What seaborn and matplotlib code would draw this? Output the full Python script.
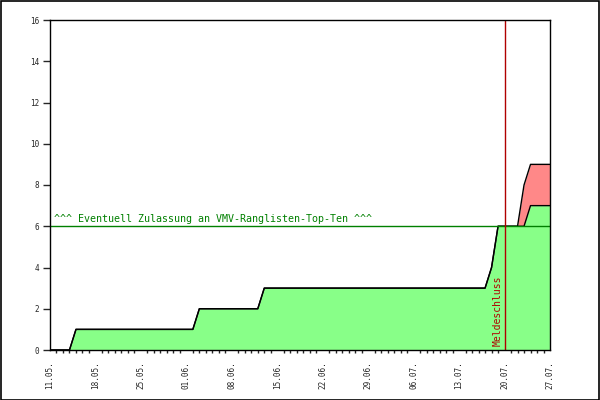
import pandas as pd
import seaborn as sns
import matplotlib.pyplot as plt
import matplotlib.dates as mdates
from matplotlib.patches import Rectangle

# vertices of the curves (daily counts, linear between days)
dates = ["2009-05-11", "2009-05-14", "2009-05-15", "2009-06-02", "2009-06-03",
         "2009-06-12", "2009-06-13", "2009-07-17", "2009-07-18", "2009-07-19",
         "2009-07-22", "2009-07-23", "2009-07-24", "2009-07-27"]
confirmed = [0, 0, 1, 1, 2, 2, 3, 3, 4, 6, 6, 6, 7, 7]
total = [0, 0, 1, 1, 2, 2, 3, 3, 4, 6, 6, 8, 9, 9]

threshold = 6
threshold_label = "^^^ Eventuell Zulassung an VMV-Ranglisten-Top-Ten ^^^"
deadline = "2009-07-20"
deadline_label = "Meldeschluss"

df = pd.DataFrame({"date": pd.to_datetime(dates), "confirmed": confirmed, "total": total})

sns.set_style("white")
plt.rcParams["font.family"] = ["DejaVu Sans Mono"]

fig = plt.figure(figsize=(6, 4), dpi=100)
ax = fig.add_axes([50 / 600, 50 / 400, 500 / 600, 330 / 400])

ax.fill_between(df["date"], df["confirmed"], df["total"], color="#ff8888", lw=0)
ax.fill_between(df["date"], 0, df["confirmed"], color="#88ff88", lw=0)
sns.lineplot(data=df, x="date", y="total", ax=ax, color="black", lw=1)
sns.lineplot(data=df, x="date", y="confirmed", ax=ax, color="black", lw=1)

ax.axhline(threshold, color="#008000", lw=1, zorder=5)
ax.text(pd.Timestamp("2009-05-11") + pd.Timedelta(days=0.6), threshold + 0.12,
        threshold_label, color="#008000", fontsize=7.2, va="bottom", ha="left")

dl = pd.Timestamp(deadline)
ax.axvline(dl, color="#b00000", lw=1, zorder=6)
ax.text(dl - pd.Timedelta(days=0.35), 0.2, deadline_label, color="#b00000",
        fontsize=7, rotation=90, ha="right", va="bottom")

ax.set_xlim(pd.Timestamp("2009-05-11"), pd.Timestamp("2009-07-27"))
ax.set_ylim(0, 16)
ax.set_yticks(range(0, 17, 2))
ax.set_xticks(pd.date_range("2009-05-11", "2009-07-27", freq="7D"))
ax.xaxis.set_major_formatter(mdates.DateFormatter("%d.%m."))
ax.xaxis.set_minor_locator(mdates.DayLocator())
ax.tick_params(axis="x", which="major", length=5, width=1, direction="out",
               labelsize=5.5, rotation=90, pad=3)
ax.tick_params(axis="x", which="minor", length=2.5, width=1, direction="out", bottom=True)
ax.tick_params(axis="y", which="major", length=5, width=1, direction="out",
               labelsize=5.5, left=True, pad=3)
ax.set_xlabel("")
ax.set_ylabel("")
for s in ax.spines.values():
    s.set_color("black")
    s.set_linewidth(1)
    s.set_zorder(7)

# frame around the whole picture
fig.patches.append(Rectangle((0.001, 0.001), 0.997, 0.997, transform=fig.transFigure,
                             fill=False, edgecolor="black", lw=1.2))

fig.savefig("out.png", dpi=100)
